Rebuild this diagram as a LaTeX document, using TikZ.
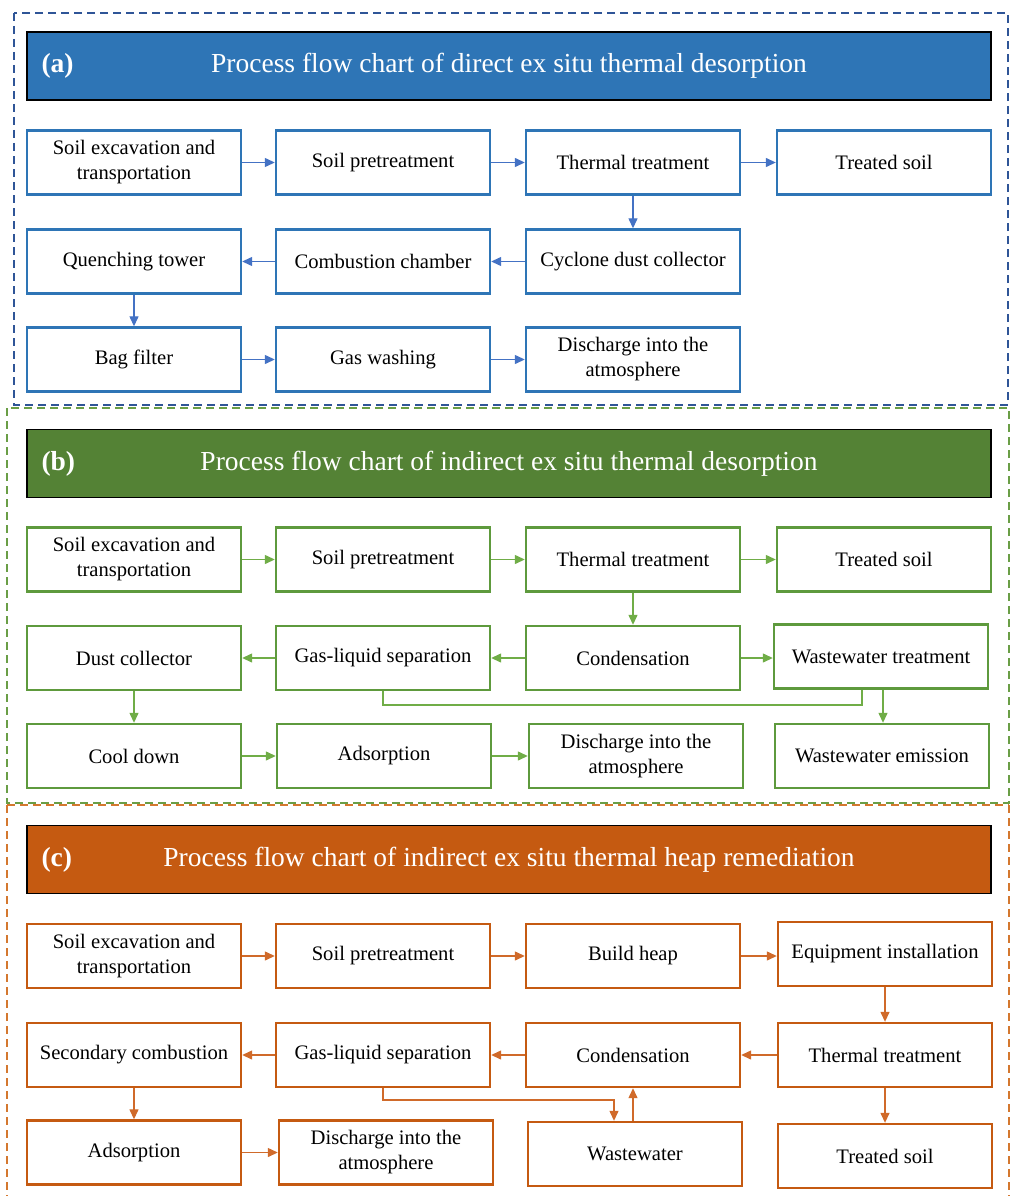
\documentclass[tikz,border=0pt]{standalone}
\usepackage{fontspec}
\setmainfont{Liberation Serif}
\usetikzlibrary{arrows.meta}
\definecolor{ablue}{HTML}{2E75B6}
\definecolor{aline}{HTML}{4472C4}
\definecolor{aframe}{HTML}{2F5597}
\definecolor{bgreen}{HTML}{548235}
\definecolor{bbox}{HTML}{5E9A3D}
\definecolor{bline}{HTML}{70AD47}
\definecolor{bframe}{HTML}{6A9E46}
\definecolor{corange}{HTML}{C55A11}
\definecolor{cline}{HTML}{D06A2A}
\definecolor{cframe}{HTML}{D4782F}
\tikzset{
  bx/.style={draw, line width=2.4pt, fill=white, minimum width=214pt, minimum height=64pt,
    inner sep=0pt, align=center, font=\fontsize{20.6}{25}\selectfont},
  titlebar/.style={draw=black, line width=1.6pt, minimum width=964pt, minimum height=68pt, inner sep=0pt},
  titletext/.style={text=white, font=\fontsize{27.5}{30}\selectfont},
  frame/.style={dashed, dash pattern=on 8pt off 5pt, line width=1.6pt},
  conn/.style={line width=1.3pt, -{Triangle[length=10pt,width=9pt]}},
  plainconn/.style={line width=1.3pt}
}
\begin{document}
\begin{tikzpicture}[x=1pt,y=-1pt]
\useasboundingbox (0,0) rectangle (1011,1196);
% frames
\draw[frame, aframe] (14,13) rectangle (1008,405);
\draw[frame, bframe] (7,408) rectangle (1009,803);
\draw[frame, cframe] (7,805) -- (1009,805);
\draw[frame, cframe] (7,805) -- (7,1196);
\draw[frame, cframe] (1009,805) -- (1009,1196);

% ---------- (a) ----------
\node[titlebar, fill=ablue] (ta) at (509,66) {};
\node[titletext, anchor=west] (tal) at (38,66) {\textbf{(a)}};
\node[titletext] (tat) at (509,66) {Process flow chart of direct ex situ thermal desorption};
\begin{scope}[every node/.style={bx, draw=ablue}]
\node (a1) at (134,162.5) {Soil excavation and\\transportation};
\node (a2) at (383,162.5) {Soil pretreatment};
\node (a3) at (633,162.5) {Thermal treatment};
\node (a4) at (884,162.5) {Treated soil};
\node (a5) at (134,261.5) {Quenching tower};
\node (a6) at (383,261.5) {Combustion chamber};
\node (a7) at (633,261.5) {Cyclone dust collector};
\node (a8) at (134,359.5) {Bag filter};
\node (a9) at (383,359.5) {Gas washing};
\node (a10) at (633,359.5) {Discharge into the\\atmosphere};
\end{scope}
\begin{scope}[aline]
\draw[conn] (a1) -- (a2);
\draw[conn] (a2) -- (a3);
\draw[conn] (a3) -- (a4);
\draw[conn] (a3) -- (a7);
\draw[conn] (a7) -- (a6);
\draw[conn] (a6) -- (a5);
\draw[conn] (a5) -- (a8);
\draw[conn] (a8) -- (a9);
\draw[conn] (a9) -- (a10);
\end{scope}

% ---------- (b) ----------
\node[titlebar, fill=bgreen] (tb) at (509,463.5) {};
\node[titletext, anchor=west] (tbl) at (38,463.5) {\textbf{(b)}};
\node[titletext] (tbt) at (509,463.5) {Process flow chart of indirect ex situ thermal desorption};
\begin{scope}[every node/.style={bx, draw=bbox}]
\node (b1) at (134,559.5) {Soil excavation and\\transportation};
\node (b2) at (383,559.5) {Soil pretreatment};
\node (b3) at (633,559.5) {Thermal treatment};
\node (b4) at (884,559.5) {Treated soil};
\node (b5) at (134,658) {Dust collector};
\node (b6) at (383,658) {Gas-liquid separation};
\node (b7) at (633,658) {Condensation};
\node (b8) at (881,656.5) {Wastewater treatment};
\node (b9) at (134,756) {Cool down};
\node (b10) at (384,756) {Adsorption};
\node (b11) at (636,756) {Discharge into the\\atmosphere};
\node (b12) at (882,756) {Wastewater emission};
\end{scope}
\coordinate (bj) at (862,705);
\coordinate (bk) at (883,700);
\begin{scope}[bline]
\draw[conn] (b1) -- (b2);
\draw[conn] (b2) -- (b3);
\draw[conn] (b3) -- (b4);
\draw[conn] (b3) -- (b7);
\draw[conn] (b7) -- (b6);
\draw[conn] (b6) -- (b5);
\draw[conn] (b7.east) -- (b7.east -| b8.west);
\draw[conn] (b5) -- (b9);
\draw[conn] (b9) -- (b10);
\draw[conn] (b10) -- (b11);
\draw[plainconn] (b6.south) |- (bj) -- (bj |- b8.south);
\draw[conn] (bk |- b8.south) -- (bk |- b12.north);
\end{scope}

% ---------- (c) ----------
\node[titlebar, fill=corange] (tc) at (509,859.5) {};
\node[titletext, anchor=west] (tcl) at (38,859.5) {\textbf{(c)}};
\node[titletext] (tct) at (509,859.5) {Process flow chart of indirect ex situ thermal heap remediation};
\begin{scope}[every node/.style={bx, draw=corange}]
\node (c1) at (134,956) {Soil excavation and\\transportation};
\node (c2) at (383,956) {Soil pretreatment};
\node (c3) at (633,956) {Build heap};
\node (c4) at (885,954) {Equipment installation};
\node (c5) at (134,1055) {Secondary combustion};
\node (c6) at (383,1055) {Gas-liquid separation};
\node (c7) at (633,1055) {Condensation};
\node (c8) at (885,1055) {Thermal treatment};
\node (c9) at (134,1152.5) {Adsorption};
\node (c10) at (386,1152.5) {Discharge into the\\atmosphere};
\node (c11) at (635,1154) {Wastewater};
\node (c12) at (885,1156) {Treated soil};
\end{scope}
\coordinate (cj) at (614,1100);
\begin{scope}[cline]
\draw[conn] (c1) -- (c2);
\draw[conn] (c2) -- (c3);
\draw[conn] (c3.east) -- (c3.east -| c4.west);
\draw[conn] (c4) -- (c8);
\draw[conn] (c8) -- (c7);
\draw[conn] (c7) -- (c6);
\draw[conn] (c6) -- (c5);
\draw[conn] (c5) -- (c9);
\draw[conn] (c9.east) -- (c9.east -| c10.west);
\draw[conn] (c8) -- (c12);
\draw[conn] (c6.south) |- (cj) -- (cj |- c11.north);
\draw[conn] ([xshift=-2pt]c11.north) -- ([xshift=0pt]c7.south);
\end{scope}
\end{tikzpicture}
\end{document}
